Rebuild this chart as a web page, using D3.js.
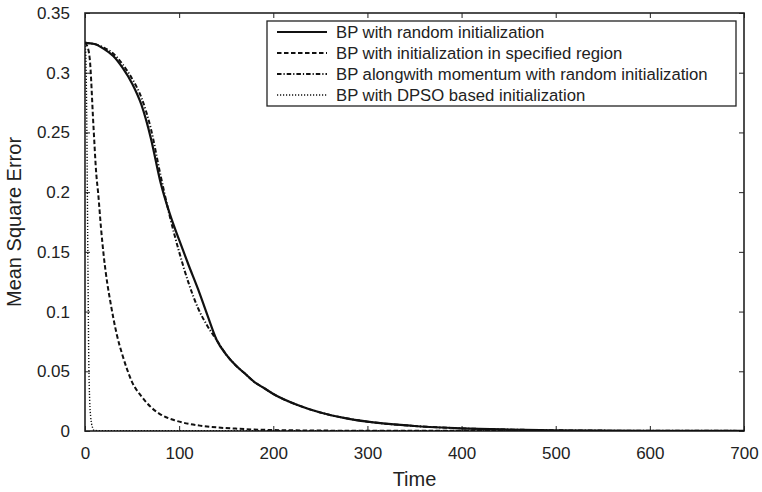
<!DOCTYPE html>
<html>
<head>
<meta charset="utf-8">
<script src="https://cdn.jsdelivr.net/npm/d3@7"></script>
<style>
  html, body { margin: 0; padding: 0; background: #fff; }
  svg { display: block; font-family: "Liberation Sans", Arial, sans-serif; }
</style>
</head>
<body>
<div id="chart"></div>
<script>
// BP with random initialization
var randTime = [0, 10, 20, 30, 40, 50, 60, 70, 80, 90, 100, 110, 120, 130, 140, 150, 160, 170, 180, 190, 200, 225, 250, 275, 300, 350, 400, 450, 500, 600, 700];
var randMSE  = [0.325, 0.324, 0.320, 0.314, 0.304, 0.291, 0.273, 0.245, 0.209, 0.182, 0.160, 0.139, 0.119, 0.097, 0.076, 0.064, 0.055, 0.048, 0.041, 0.036, 0.031, 0.022, 0.0155, 0.011, 0.0078, 0.0042, 0.0022, 0.0012, 0.0006, 0.0002, 0.0001];

// BP with initialization in specified region
var regionTime = [0, 2, 5, 9, 12, 14, 17, 20, 24, 27, 30, 34, 40, 45, 50, 60, 70, 80, 95, 110, 122, 140, 160, 200, 300, 700];
var regionMSE  = [0.325, 0.323, 0.312, 0.255, 0.215, 0.199, 0.170, 0.146, 0.122, 0.108, 0.095, 0.080, 0.063, 0.051, 0.041, 0.029, 0.020, 0.014, 0.009, 0.006, 0.0045, 0.003, 0.002, 0.0008, 0.0002, 0];

// BP alongwith momentum with random initialization
var momTime = [0, 10, 20, 30, 40, 50, 60, 70, 80, 90, 100, 110, 120, 130, 140, 150, 160, 170, 180, 190, 200, 225, 250, 275, 300, 350, 400, 450, 500, 600, 700];
var momMSE  = [0.325, 0.324, 0.321, 0.316, 0.307, 0.295, 0.279, 0.253, 0.215, 0.180, 0.150, 0.124, 0.103, 0.088, 0.076, 0.064, 0.055, 0.048, 0.041, 0.036, 0.031, 0.022, 0.0155, 0.011, 0.0078, 0.0042, 0.0022, 0.0012, 0.0006, 0.0002, 0.0001];

// BP with DPSO based initialization
var dpsoTime = [0, 1, 2, 3, 4, 5, 6, 7, 8, 9, 10, 20, 700];
var dpsoMSE  = [0.325, 0.31, 0.25, 0.15, 0.06, 0.025, 0.012, 0.006, 0.003, 0.001, 0.0004, 0.0003, 0.0003];

var seriesNames = [
  "BP with random initialization",
  "BP with initialization in specified region",
  "BP alongwith momentum with random initialization",
  "BP with DPSO based initialization"
];
var xTicks = [0, 100, 200, 300, 400, 500, 600, 700];
var yTicks = [0, 0.05, 0.1, 0.15, 0.2, 0.25, 0.3, 0.35];

var width = 762, height = 492;
var margin = { top: 13, right: 18, bottom: 61, left: 85 };
var plotW = width - margin.left - margin.right;
var plotH = height - margin.top - margin.bottom;

var svg = d3.select('#chart').append('svg')
    .attr('width', width)
    .attr('height', height);

var x = d3.scaleLinear().domain([0, 700]).range([0, plotW]);
var y = d3.scaleLinear().domain([0, 0.35]).range([plotH, 0]);

var g = svg.append('g').attr('transform', 'translate(' + margin.left + ',' + margin.top + ')');

g.append('clipPath').attr('id', 'clip')
  .append('rect').attr('x', 0).attr('y', -2).attr('width', plotW).attr('height', plotH + 2);

// ticks (inward, on all four sides)
var fmtY = function(d) { return d === 0 ? '0' : String(+d.toFixed(2)); };

var xAxisB = g.append('g').attr('transform', 'translate(0,' + plotH + ')')
    .call(d3.axisBottom(x).tickValues(xTicks).tickSizeInner(-5).tickSizeOuter(0).tickPadding(16));
var xAxisT = g.append('g')
    .call(d3.axisTop(x).tickValues(xTicks).tickSizeInner(-5).tickSizeOuter(0).tickFormat(''));
var yAxisL = g.append('g')
    .call(d3.axisLeft(y).tickValues(yTicks).tickSizeInner(-5).tickSizeOuter(0).tickPadding(15).tickFormat(fmtY));
var yAxisR = g.append('g').attr('transform', 'translate(' + plotW + ',0)')
    .call(d3.axisRight(y).tickValues(yTicks).tickSizeInner(-5).tickSizeOuter(0).tickFormat(''));

[xAxisB, xAxisT, yAxisL, yAxisR].forEach(function(a) {
  a.select('.domain').remove();
  a.selectAll('.tick line').attr('stroke', '#222').attr('stroke-width', 1);
  a.selectAll('.tick text')
    .attr('fill', '#222')
    .attr('font-size', '17px')
    .attr('font-family', '"Liberation Sans", Arial, sans-serif');
});
xAxisB.selectAll('.tick text').attr('dy', '0.71em');

// box
g.append('rect')
  .attr('x', 0).attr('y', 0)
  .attr('width', plotW).attr('height', plotH)
  .attr('fill', 'none')
  .attr('stroke', '#222')
  .attr('stroke-width', 1.6);

// lines
var series = [
  { t: randTime,   v: randMSE,   dash: null,          w: 2.2 },
  { t: regionTime, v: regionMSE, dash: '4.5,2.5',     w: 2.0 },
  { t: momTime,    v: momMSE,    dash: '4.5,2,1.2,2', w: 2.0 },
  { t: dpsoTime,   v: dpsoMSE,   dash: '1.2,1.8',     w: 1.4 }
];

var line = d3.line()
    .x(function(d) { return x(d[0]); })
    .y(function(d) { return y(d[1]); })
    .curve(d3.curveMonotoneX);

var lines = g.append('g').attr('clip-path', 'url(#clip)');
series.forEach(function(s) {
  var pts = s.t.map(function(t, i) { return [t, s.v[i]]; });
  lines.append('path')
    .datum(pts)
    .attr('d', line)
    .attr('fill', 'none')
    .attr('stroke', '#111')
    .attr('stroke-width', s.w)
    .attr('stroke-dasharray', s.dash);
});

// legend
var leg = svg.append('g').attr('transform', 'translate(267,21)');
leg.append('rect')
  .attr('width', 469).attr('height', 85)
  .attr('fill', '#fff')
  .attr('stroke', '#222')
  .attr('stroke-width', 1.3);

seriesNames.forEach(function(name, i) {
  var cy = 11 + i * 21;
  leg.append('line')
    .attr('x1', 10).attr('x2', 60)
    .attr('y1', cy).attr('y2', cy)
    .attr('stroke', '#111')
    .attr('stroke-width', series[i].w)
    .attr('stroke-dasharray', series[i].dash);
  leg.append('text')
    .attr('x', 69).attr('y', cy + 6)
    .attr('font-size', '16.7px')
    .attr('fill', '#222')
    .text(name);
});

// axis titles
svg.append('text')
  .attr('x', margin.left + plotW / 2)
  .attr('y', 486)
  .attr('text-anchor', 'middle')
  .attr('font-size', '20px')
  .attr('fill', '#222')
  .text('Time');

svg.append('text')
  .attr('transform', 'translate(21,' + (margin.top + plotH / 2) + ') rotate(-90)')
  .attr('text-anchor', 'middle')
  .attr('font-size', '20px')
  .attr('fill', '#222')
  .text('Mean Square Error');
</script>
</body>
</html>
